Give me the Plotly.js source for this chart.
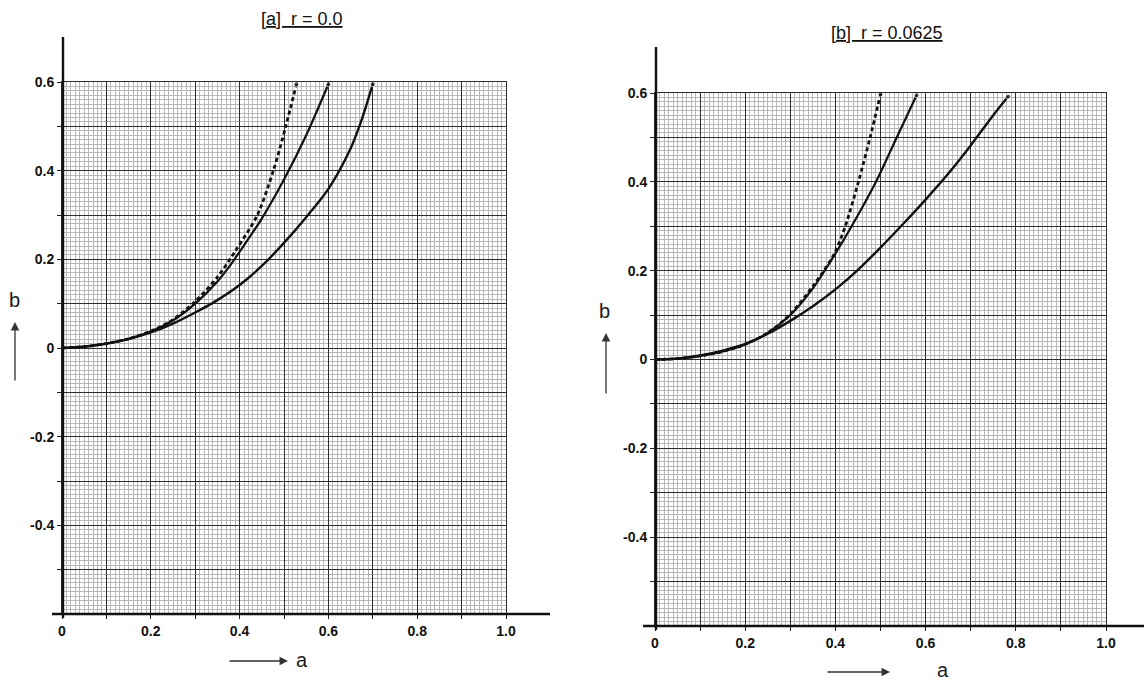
<!DOCTYPE html>
<html>
<head>
<meta charset="utf-8">
<script src="https://cdn.plot.ly/plotly-3.0.1.min.js"></script>
<style>html,body{margin:0;padding:0;background:#fff}#chart{width:1144px;height:686px}</style>
</head>
<body>
<div id="chart"></div>
<script>
// ---------- data ----------
const titleA = "[a]  r = 0.0";
const titleB = "[b]  r = 0.0625";
const xLabel = "a";
const yLabel = "b";

const tickVals = [-0.6,-0.5,-0.4,-0.3,-0.2,-0.1,0,0.1,0.2,0.3,0.4,0.5,0.6,0.7,0.8,0.9,1.0];
const yTickText = ["","","-0.4","","-0.2","","0","","0.2","","0.4","","0.6","","","",""];
const xTickText = ["","","","","","","0","","0.2","","0.4","","0.6","","0.8","","1.0"];

// panel [a] r = 0.0
const aSolidA = [0,0.05,0.1,0.15,0.2,0.25,0.3,0.35,0.4,0.45,0.5,0.55,0.6,0.65,0.675,0.7];
const bSolidA = [0,0.003,0.01,0.02,0.035,0.055,0.08,0.108,0.142,0.185,0.237,0.295,0.359,0.45,0.515,0.595];
const aMidA   = [0,0.05,0.1,0.15,0.2,0.25,0.3,0.35,0.38,0.4,0.45,0.5,0.55,0.6];
const bMidA   = [0,0.003,0.01,0.021,0.037,0.062,0.1,0.15,0.188,0.217,0.292,0.38,0.48,0.595];
const aDotA   = [0,0.05,0.1,0.15,0.2,0.25,0.3,0.35,0.39,0.44,0.476,0.504,0.528];
const bDotA   = [0,0.003,0.01,0.021,0.038,0.064,0.105,0.16,0.218,0.3,0.4,0.5,0.595];

// panel [b] r = 0.0625
const aSolidB = [0,0.05,0.1,0.15,0.2,0.25,0.3,0.35,0.4,0.45,0.5,0.55,0.6,0.65,0.7,0.75,0.783];
const bSolidB = [0,0.002,0.009,0.02,0.035,0.058,0.087,0.12,0.158,0.202,0.252,0.305,0.36,0.418,0.482,0.55,0.592];
const aMidB   = [0,0.05,0.1,0.15,0.2,0.25,0.3,0.35,0.39,0.436,0.49,0.536,0.58];
const bMidB   = [0,0.002,0.008,0.018,0.034,0.06,0.1,0.16,0.222,0.3,0.4,0.5,0.595];
const aDotB   = [0,0.05,0.1,0.15,0.2,0.25,0.3,0.35,0.396,0.422,0.451,0.477,0.5];
const bDotB   = [0,0.002,0.008,0.018,0.034,0.06,0.102,0.165,0.235,0.3,0.4,0.5,0.597];

// ---------- layout geometry (pixels) ----------
const W = 1144, H = 686;
const P1 = {x0:62, x1:506, yTop:82, yBot:614};
const P2 = {x0:655, x1:1106, yTop:93, yBot:626};
const px = v => v / W;
const py = v => 1 - v / H;

function endMarkers(n){ const s = new Array(n).fill(0); s[n-1] = 5; return s; }

function curve(x, y, xa, ya, style){
  const t = {x:x, y:y, xaxis:xa, yaxis:ya, type:'scatter', mode:'lines+markers',
    hoverinfo:'skip', showlegend:false,
    line:{color:'#111', width:2.4, shape:'spline', smoothing:0.8},
    marker:{color:'#111', size:endMarkers(x.length)}};
  if(style==='dot'){ t.line.dash = '4px,3px'; t.line.width = 2.8; }
  if(style==='mid'){ t.line.width = 2.2; }
  return t;
}

const traces = [
  curve(aDotA, bDotA, 'x', 'y', 'dot'),
  curve(aMidA, bMidA, 'x', 'y', 'mid'),
  curve(aSolidA, bSolidA, 'x', 'y', 'solid'),
  curve(aDotB, bDotB, 'x2', 'y2', 'dot'),
  curve(aMidB, bMidB, 'x2', 'y2', 'mid'),
  curve(aSolidB, bSolidB, 'x2', 'y2', 'solid')
];

const tickFont = {family:'Liberation Sans, Arial, sans-serif', size:14, color:'#111', weight:'bold'};

function commonAxis(){
  return {tickmode:'array', tickvals:tickVals,
    ticks:'outside', ticklen:4, tickcolor:'#222', tickwidth:1,
    showgrid:true, gridcolor:'#2e2e2e', gridwidth:1,
    zeroline:false, showline:true, linecolor:'#2e2e2e', linewidth:1, mirror:true,
    tickfont:tickFont, fixedrange:true,
    minor:{dtick:0.01, tick0:0, showgrid:true, gridcolor:'#b8b8b8', gridwidth:1}};
}
function xAxis(P, anchor, text){
  return Object.assign(commonAxis(), {domain:[px(P.x0), px(P.x1)], range:[0,1], anchor:anchor, ticktext:text});
}
function yAxis(P, anchor, text){
  return Object.assign(commonAxis(), {domain:[py(P.yBot), py(P.yTop)], range:[-0.6,0.6], anchor:anchor, ticktext:text});
}

// heavy axis lines that run beyond the grid (as on the printed chart)
function axisShapes(P, xEnd, yEndTop, xStart){
  return [
    {type:'line', xref:'paper', yref:'paper', x0:px(xStart), x1:px(xEnd), y0:py(P.yBot), y1:py(P.yBot),
     line:{color:'#111', width:2.4}},
    {type:'line', xref:'paper', yref:'paper', x0:px(P.x0+1), x1:px(P.x0+1), y0:py(P.yBot+4), y1:py(yEndTop),
     line:{color:'#111', width:2.4}}
  ];
}

function arrowAnn(xh, yh, ax, ay){
  return {xref:'paper', yref:'paper', x:px(xh), y:py(yh), ax:ax, ay:ay, text:'',
    showarrow:true, arrowhead:2, arrowsize:1.3, arrowwidth:1.3, arrowcolor:'#333'};
}
function textAnn(xp, yp, text, font){
  return {xref:'paper', yref:'paper', x:px(xp), y:py(yp), text:text, showarrow:false,
    xanchor:'center', yanchor:'middle', font:font};
}
const labFont = {family:'Liberation Sans, Arial, sans-serif', size:20, color:'#1a1a1a'};
const titFont = {family:'Liberation Sans, Arial, sans-serif', size:18, color:'#111'};

const layout = {
  width:W, height:H, margin:{l:0, r:0, t:0, b:0},
  paper_bgcolor:'#fff', plot_bgcolor:'#fff', showlegend:false,
  xaxis: xAxis(P1, 'y', xTickText),
  yaxis: yAxis(P1, 'x', yTickText),
  xaxis2: xAxis(P2, 'y2', xTickText),
  yaxis2: yAxis(P2, 'x2', yTickText),
  shapes: [].concat(axisShapes(P1, 550, 37, 52), axisShapes(P2, 1144, 47, 643)),
  annotations: [
    textAnn(302, 19, '<u>'+titleA+'</u>', titFont),
    textAnn(887, 33, '<u>'+titleB+'</u>', titFont),
    textAnn(14, 300, yLabel, labFont),
    arrowAnn(15, 322, 0, 60),
    textAnn(604, 311, yLabel, labFont),
    arrowAnn(606, 333, 0, 62),
    textAnn(302, 660, xLabel, labFont),
    arrowAnn(288, 661, -60, 0),
    textAnn(943, 670, xLabel, labFont),
    arrowAnn(890, 672, -64, 0)
  ]
};

Plotly.newPlot('chart', traces, layout, {staticPlot:true, displayModeBar:false});
</script>
</body>
</html>
